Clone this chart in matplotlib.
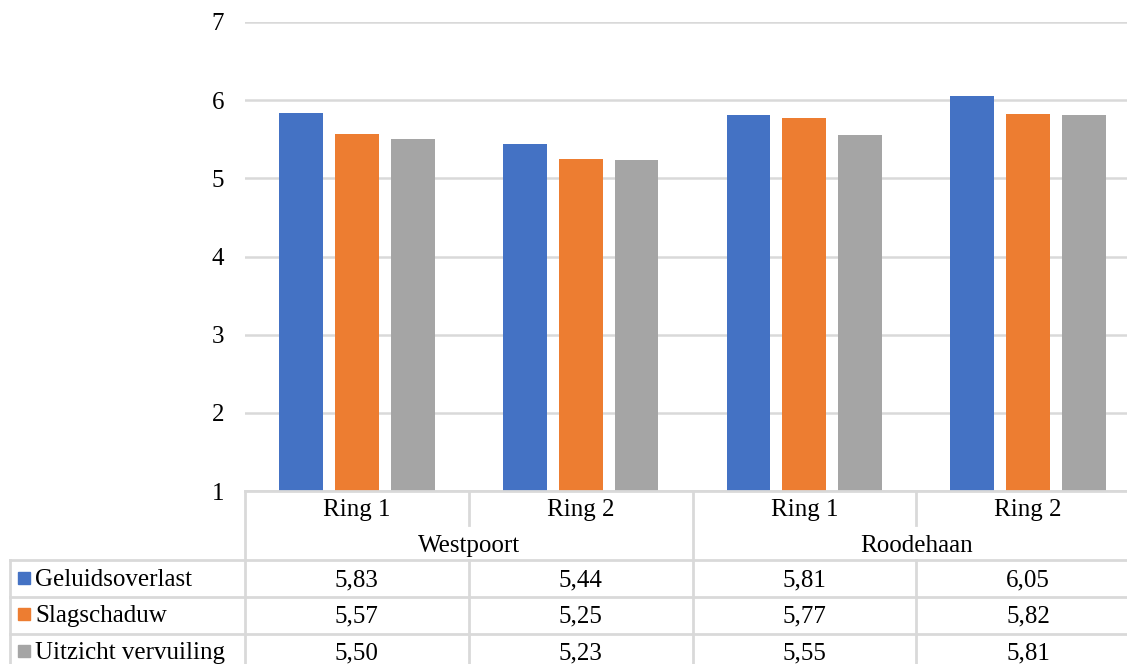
import matplotlib
matplotlib.use("Agg")
import matplotlib.pyplot as plt
from matplotlib import transforms
from matplotlib.lines import Line2D
from matplotlib.patches import Rectangle

categories = ["Ring 1", "Ring 2", "Ring 1", "Ring 2"]
groups = ["Westpoort", "Roodehaan"]
series_names = ["Geluidsoverlast", "Slagschaduw", "Uitzicht vervuiling"]
geluidsoverlast = [5.83, 5.44, 5.81, 6.05]
slagschaduw = [5.57, 5.25, 5.77, 5.82]
uitzicht = [5.50, 5.23, 5.55, 5.81]
yticks = [1, 2, 3, 4, 5, 6, 7]

series = [geluidsoverlast, slagschaduw, uitzicht]
colors = ["#4472C4", "#ED7D31", "#A5A5A5"]
grid_c = "#D9D9D9"
FONT = "Liberation Serif"
FS = 18

W, H = 1127, 664
fig = plt.figure(figsize=(W / 100, H / 100), dpi=100)
ax = fig.add_axes([245 / W, 1 - 491 / H, (1140 - 245) / W, (491 - 22) / H])
ax.set_xlim(-0.5, len(categories) - 0.5)
ax.set_ylim(yticks[0], yticks[-1])

bw = 0.196
offs = [-0.25, 0, 0.25]
for s, c, o in zip(series, colors, offs):
    ax.bar([i + o for i in range(len(categories))], s, width=bw, color=c, zorder=3)

ax.set_yticks(yticks)
ax.set_yticklabels([str(t) for t in yticks], fontname=FONT, fontsize=FS)
ax.tick_params(axis="y", length=0, pad=15)
ax.set_xticks([])
ax.grid(axis="y", color=grid_c, lw=1.8, zorder=0)
for sp in ax.spines.values():
    sp.set_visible(False)

bt = transforms.blended_transform_factory(ax.transData, fig.transFigure)
ft = fig.transFigure
def fy(py):
    return 1 - py / H
def fx(px):
    return px / W

lkw = dict(color=grid_c, lw=2, clip_on=False)
fig.add_artist(Line2D([-0.5, 3.6], [fy(491), fy(491)], transform=bt, **lkw))
for py in [560, 597, 634]:
    fig.add_artist(Line2D([fx(10), fx(1200)], [fy(py), fy(py)], transform=ft, **lkw))
fig.add_artist(Line2D([-0.5, -0.5], [fy(491), fy(700)], transform=bt, **lkw))
fig.add_artist(Line2D([1.5, 1.5], [fy(491), fy(700)], transform=bt, **lkw))
for xv in [0.5, 2.5]:
    fig.add_artist(Line2D([xv, xv], [fy(491), fy(525)], transform=bt, **lkw))
    fig.add_artist(Line2D([xv, xv], [fy(560), fy(700)], transform=bt, **lkw))
fig.add_artist(Line2D([fx(10), fx(10)], [fy(560), fy(700)], transform=ft, **lkw))

tkw = dict(fontname=FONT, fontsize=FS, ha="center", va="baseline", color="#000000")
for i, cat in enumerate(categories):
    fig.text(i, fy(516), cat, transform=bt, **tkw)
for g, name in enumerate(groups):
    fig.text(2 * g + 0.5, fy(552), name, transform=bt, **tkw)

row_y = [586, 622, 659]
for r, (name, s, c) in enumerate(zip(series_names, series, colors)):
    y = row_y[r]
    fig.add_artist(Rectangle((fx(18), fy(y - 2)), 12 / W, 12 / H, transform=ft,
                             color=c, clip_on=False))
    fig.text(fx(35), fy(y), name, fontname=FONT, fontsize=FS, ha="left", va="baseline")
    for i, v in enumerate(s):
        fig.text(i, fy(y), f"{v:.2f}".replace(".", ","), transform=bt, **tkw)

fig.savefig("out.png", dpi=100)
